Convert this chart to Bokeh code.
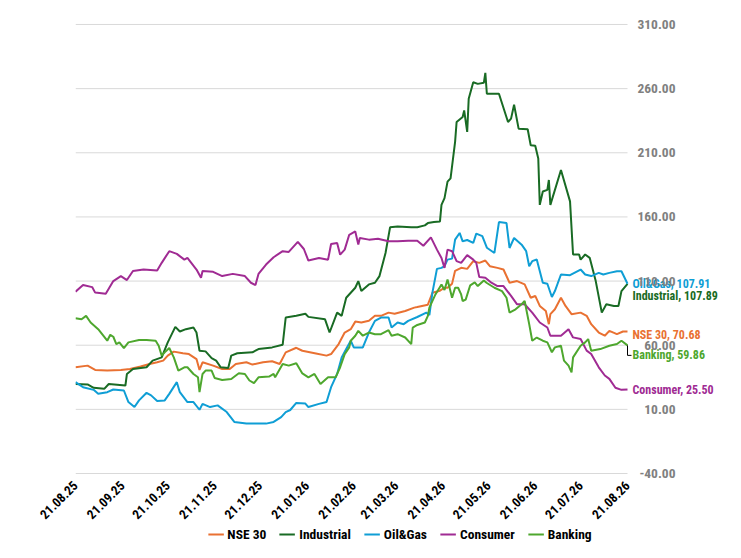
import math
from datetime import date
from bokeh.plotting import figure
from bokeh.layouts import column
from bokeh.models import (Range1d, FixedTicker, NumeralTickFormatter, Legend,
                          LegendItem, ColumnDataSource)
from bokeh.embed import file_html
from bokeh.resources import INLINE
from bokeh.core.properties import value

# ---------------- data ----------------
tick_labels = ["21.08.25", "21.09.25", "21.10.25", "21.11.25", "21.12.25",
               "21.01.26", "21.02.26", "21.03.26", "21.04.26", "21.05.26",
               "21.06.26", "21.07.26", "21.08.26"]

series_names = ["NSE 30", "Industrial", "Oil&Gas", "Consumer", "Banking"]

nse_days = [0, 8, 13, 21, 30, 36, 43, 49, 54, 58, 61, 65, 71, 75, 80, 82, 84, 91, 97, 102,
            106, 113, 117, 124, 130, 135, 139, 146, 150, 159, 166, 169, 174, 178, 182, 185,
            189, 194, 198, 202, 207, 211, 218, 224, 226, 233, 236, 241, 244, 246, 249, 251,
            255, 259, 263, 267, 271, 274, 279, 283, 287, 292, 297, 301, 304, 307, 311, 313,
            314, 317, 321, 324, 328, 334, 338, 341, 346, 350, 353, 358, 362, 365]
nse_vals = [42.8, 44.1, 40.7, 40.2, 40.7, 41.5, 43.4, 45.4, 46.7, 48.0, 51.9, 55.0, 53.7,
            53.1, 49.2, 40.7, 46.7, 44.1, 41.5, 41.5, 45.4, 46.7, 44.9, 46.7, 47.5, 45.4,
            54.4, 58.0, 55.7, 53.6, 51.9, 53.1, 60.9, 69.9, 72.5, 78.4, 77.7, 79.0, 82.9,
            82.9, 85.4, 84.6, 86.7, 89.3, 89.8, 91.6, 100.9, 102.5, 104.8, 104.8, 108.0,
            118.0, 120.3, 119.5, 125.5, 124.2, 126.0, 121.6, 120.3, 119.0, 108.7, 110.0,
            107.4, 97.0, 98.4, 90.6, 86.7, 76.4, 84.2, 88.0, 97.0, 90.6, 84.2, 85.4, 82.9,
            76.4, 69.9, 67.4, 71.2, 68.6, 70.7, 70.68]

ind_days = [0, 8, 12, 19, 22, 33, 34, 38, 47, 51, 57, 61, 66, 69, 73, 78, 80, 82, 86, 90,
            93, 96, 101, 103, 107, 117, 121, 130, 137, 139, 146, 152, 154, 165, 168, 173,
            176, 179, 185, 187, 189, 194, 198, 201, 205, 208, 213, 222, 226, 231, 233, 237,
            241, 242, 244, 246, 248, 251, 252, 256, 257, 259, 260, 263, 266, 270, 271, 272,
            280, 286, 288, 290, 293, 299, 301, 304, 306, 307, 309, 312, 313, 314, 321, 327,
            329, 333, 334, 337, 340, 344, 348, 351, 356, 359, 361, 365]
ind_vals = [29.8, 29.4, 26.8, 26.0, 29.8, 28.6, 37.6, 41.5, 42.8, 48.0, 50.5, 62.2, 74.3,
            70.7, 72.5, 73.8, 69.9, 55.7, 55.2, 50.0, 48.0, 42.8, 42.3, 51.9, 53.7, 54.5,
            57.0, 58.3, 60.4, 81.6, 82.9, 84.5, 82.1, 80.2, 69.9, 85.4, 82.9, 97.0, 104.8,
            110.0, 102.2, 107.4, 108.7, 113.9, 131.9, 151.9, 152.6, 151.9, 151.9, 153.4,
            155.2, 156.0, 156.5, 169.4, 174.6, 187.5, 190.1, 218.5, 234.0, 237.9, 243.0,
            226.3, 252.1, 265.0, 263.7, 264.5, 272.3, 256.0, 256.0, 234.0, 236.6, 247.4,
            228.8, 228.3, 215.9, 215.5, 205.6, 169.4, 179.8, 181.1, 188.8, 169.4, 196.6,
            172.1, 130.7, 130.7, 126.7, 130.7, 128.1, 110.0, 85.4, 91.9, 90.6, 90.6, 102.2,
            107.89]

oil_days = [0, 5, 12, 15, 21, 25, 32, 35, 39, 42, 47, 50, 54, 59, 62, 67, 69, 74, 78, 82,
            84, 89, 94, 100, 105, 113, 126, 131, 136, 139, 142, 146, 152, 154, 161, 166,
            169, 173, 176, 179, 182, 184, 190, 194, 198, 202, 207, 209, 213, 217, 220, 226,
            232, 234, 236, 239, 242, 244, 246, 249, 251, 254, 256, 259, 263, 265, 269, 272,
            277, 280, 285, 287, 290, 295, 298, 300, 302, 305, 309, 312, 315, 317, 321, 327,
            334, 337, 341, 346, 349, 353, 358, 361, 365]
oil_vals = [31.2, 27.3, 25.2, 22.1, 23.4, 25.5, 24.7, 15.7, 11.8, 17.0, 22.9, 20.9, 16.5,
            17.0, 22.1, 31.2, 23.4, 15.7, 15.7, 9.7, 14.3, 11.8, 13.1, 7.9, 0.2, -1.1, -1.1,
            0.2, 4.0, 7.9, 9.5, 15.0, 14.5, 11.8, 14.3, 15.7, 27.3, 37.6, 50.5, 57.0, 63.5,
            58.3, 58.3, 69.9, 79.0, 81.6, 81.6, 73.8, 77.7, 76.4, 79.0, 82.0, 85.4, 83.5,
            101.0, 119.5, 120.3, 121.6, 126.7, 127.5, 142.3, 147.5, 141.0, 142.0, 139.7,
            147.0, 145.0, 136.0, 131.9, 156.0, 155.2, 135.8, 143.6, 138.4, 133.3, 121.6,
            125.5, 126.8, 108.7, 107.9, 97.6, 102.2, 115.1, 114.6, 119.0, 115.1, 113.9,
            116.4, 115.1, 116.4, 117.7, 117.7, 107.91]

con_days = [0, 5, 11, 13, 20, 25, 30, 34, 38, 45, 54, 57, 62, 67, 72, 74, 80, 83, 84, 91,
            97, 104, 112, 116, 119, 121, 126, 131, 137, 141, 147, 151, 154, 161, 167, 169,
            173, 175, 178, 181, 185, 187, 188, 194, 200, 207, 213, 220, 226, 230, 235, 239,
            242, 244, 246, 249, 252, 255, 259, 263, 265, 267, 271, 275, 279, 283, 288, 292,
            297, 302, 307, 312, 314, 321, 326, 329, 334, 338, 341, 346, 350, 353, 357, 361,
            365]
con_vals = [101.7, 106.9, 105.3, 101.0, 100.2, 110.0, 113.9, 110.8, 117.8, 119.0, 118.2,
            124.2, 133.3, 131.2, 126.7, 128.0, 119.0, 112.6, 117.8, 117.2, 113.9, 115.6,
            113.9, 108.7, 106.9, 115.6, 122.9, 128.6, 133.3, 132.7, 140.5, 135.0, 126.0,
            128.0, 126.7, 138.9, 139.6, 130.6, 134.5, 146.1, 148.7, 138.4, 143.5, 142.3,
            143.0, 141.0, 141.0, 141.5, 141.5, 137.5, 144.1, 134.5, 128.0, 120.3, 134.5,
            133.3, 125.5, 124.2, 130.2, 126.7, 124.2, 113.1, 112.6, 108.7, 106.1, 106.1,
            98.4, 91.9, 91.9, 85.4, 77.7, 73.8, 67.4, 67.4, 72.5, 66.1, 64.8, 55.8, 53.2,
            42.8, 36.4, 33.8, 26.8, 25.2, 25.50]

bank_days = [0, 4, 7, 10, 15, 21, 23, 25, 27, 29, 32, 35, 42, 47, 53, 55, 57, 59, 62, 65,
             68, 72, 74, 78, 81, 82, 84, 86, 90, 92, 97, 103, 108, 112, 115, 118, 121, 128,
             131, 132, 137, 141, 146, 150, 154, 158, 162, 167, 172, 175, 178, 181, 182, 185,
             187, 190, 194, 198, 202, 207, 209, 213, 218, 222, 223, 226, 231, 233, 234, 238,
             242, 244, 246, 249, 251, 253, 255, 256, 258, 261, 264, 266, 270, 272, 277, 282,
             285, 287, 291, 295, 297, 300, 302, 305, 309, 312, 315, 317, 321, 323, 326, 328,
             329, 334, 337, 339, 341, 347, 353, 358, 361, 365]
bank_vals = [81.0, 80.2, 82.9, 77.7, 72.5, 63.5, 68.1, 66.6, 60.9, 62.2, 57.8, 62.2, 64.0,
             64.0, 63.5, 59.6, 51.9, 54.4, 57.8, 50.5, 40.2, 42.8, 42.8, 37.6, 35.0, 23.4,
             37.6, 40.2, 40.2, 34.5, 32.9, 33.7, 38.2, 37.6, 32.5, 30.4, 35.0, 35.6, 37.6,
             35.0, 45.4, 44.1, 46.0, 38.0, 35.0, 37.6, 29.8, 35.0, 35.0, 42.8, 53.1, 58.3,
             63.5, 67.4, 71.2, 67.4, 69.9, 68.6, 68.6, 71.7, 67.4, 68.6, 66.0, 60.9, 73.8,
             75.8, 77.7, 82.9, 89.3, 99.6, 107.4, 103.0, 111.3, 97.0, 104.8, 104.8, 99.6,
             94.5, 95.5, 106.7, 109.0, 106.1, 110.5, 108.5, 104.8, 102.2, 97.0, 85.4, 88.0,
             91.9, 94.5, 76.4, 63.5, 66.0, 63.5, 62.2, 54.5, 58.3, 59.6, 48.0, 44.1, 38.9,
             50.5, 59.6, 62.2, 64.8, 55.7, 57.0, 59.6, 60.9, 63.5, 59.86]

y_ticks = [-40, 10, 60, 110, 160, 210, 260, 310]

# ---------------- styling / layout ----------------
colors = ["#E97132", "#196B24", "#0F9ED5", "#A02B93", "#4EA72E"]
label_nudge = [3, 12, 0, 1, 10]   # screen px, positive = down
FONT = "Roboto Condensed"

W = 725
H_MAIN = 526
H_LEG = 16
PAD_T, PAD_B = 8, 6     # extra frame room so extreme tick labels are not cut
LEFT, TOP, BOTTOM, RIGHT = 75, 16, 46, 1
DATA_W = 552            # pixel width of the dated span
DATA_H = 450            # pixel height of the value span
FRAME_W = W - LEFT - RIGHT


def to_day(s):
    d, m, y = s.split(".")
    return (date(2000 + int(y), int(m), int(d)) - date(2025, 8, 21)).days


tick_days = [to_day(s) for s in tick_labels]
x_end = tick_days[-1] * FRAME_W / DATA_W
px_y = (y_ticks[-1] - y_ticks[0]) / DATA_H
px_x = tick_days[-1] / DATA_W

p = figure(width=W, height=H_MAIN, output_backend="svg", toolbar_location=None,
           x_range=Range1d(0, x_end),
           y_range=Range1d(y_ticks[0] - PAD_B * px_y, y_ticks[-1] + PAD_T * px_y),
           y_axis_location="left",
           min_border_left=LEFT, min_border_right=RIGHT, min_border_top=TOP,
           min_border_bottom=BOTTOM)
p.outline_line_color = None
p.background_fill_color = "white"
p.border_fill_color = "white"
p.xgrid.visible = False
p.ygrid.visible = False

# horizontal gridlines over the dated span only
p.segment(x0=[0] * len(y_ticks), x1=[tick_days[-1]] * len(y_ticks),
          y0=y_ticks, y1=y_ticks, line_color="#d9d9d9", line_width=1)

# value axis drawn at the right end of the dated span
yax = p.yaxis[0]
yax.fixed_location = tick_days[-1]
yax.ticker = FixedTicker(ticks=y_ticks)
yax.formatter = NumeralTickFormatter(format="0.00")
yax.axis_line_color = None
yax.major_tick_line_color = None
yax.minor_tick_line_color = None
yax.major_tick_out = 0
yax.major_tick_in = 0
yax.major_label_standoff = -48
yax.major_label_text_font = FONT
yax.major_label_text_font_style = "bold"
yax.major_label_text_font_size = "13.5px"
yax.major_label_text_color = "#808080"

xax = p.xaxis[0]
xax.ticker = FixedTicker(ticks=tick_days)
xax.major_label_overrides = {d: s for d, s in zip(tick_days, tick_labels)}
xax.major_label_orientation = math.pi / 4
xax.axis_line_color = None
xax.major_tick_line_color = None
xax.minor_tick_line_color = None
xax.major_tick_out = 0
xax.major_label_standoff = 4
xax.major_label_text_font = FONT
xax.major_label_text_font_style = "bold"
xax.major_label_text_font_size = "13px"
xax.major_label_text_color = "#000000"

all_days = [nse_days, ind_days, oil_days, con_days, bank_days]
all_vals = [nse_vals, ind_vals, oil_vals, con_vals, bank_vals]

for d, v, c in zip(all_days, all_vals, colors):
    p.line(d, v, line_color=c, line_width=2)

# leader line for the Banking label
bx, by = bank_days[-1], bank_vals[-1]
by2 = by - label_nudge[4] * px_y
p.line([bx, bx, bx + 4 * px_x], [by, by2, by2], line_color="black", line_width=1)

lab = ColumnDataSource(dict(
    x=[d[-1] for d in all_days],
    y=[v[-1] for v in all_vals],
    text=[f"{n}, {v[-1]:.2f}" for n, v in zip(series_names, all_vals)],
    color=colors,
    yo=label_nudge,
))
p.text(x="x", y="y", text="text", text_color="color", source=lab, x_offset=5,
       y_offset="yo", text_baseline="middle", text_align="left",
       text_font_size="12px", text_font_style="bold", text_font=value(FONT))

# legend row: the same series, drawn outside this small frame's view, act as legend keys
p2 = figure(width=W, height=H_LEG, output_backend="svg", toolbar_location=None,
            x_axis_location=None, y_axis_location=None,
            x_range=Range1d(-20, -10), y_range=Range1d(-1000, -999),
            min_border_left=17, min_border_right=0, min_border_top=0,
            min_border_bottom=0)
p2.outline_line_color = None
p2.grid.visible = False
items = []
for name, d, v, c in zip(series_names, all_days, all_vals, colors):
    r = p2.line(d, v, line_color=c, line_width=2)
    items.append(LegendItem(label=name, renderers=[r]))
leg = Legend(items=items, orientation="horizontal", location="center",
             border_line_color=None, background_fill_alpha=0,
             label_text_font=FONT, label_text_font_style="bold",
             label_text_font_size="13.5px", label_text_color="black",
             glyph_width=16, glyph_height=14, label_standoff=4, spacing=13,
             padding=0, margin=0)
p2.add_layout(leg)

layout = column(p, p2, spacing=0)
open("out.html", "w").write(file_html(layout, INLINE))
